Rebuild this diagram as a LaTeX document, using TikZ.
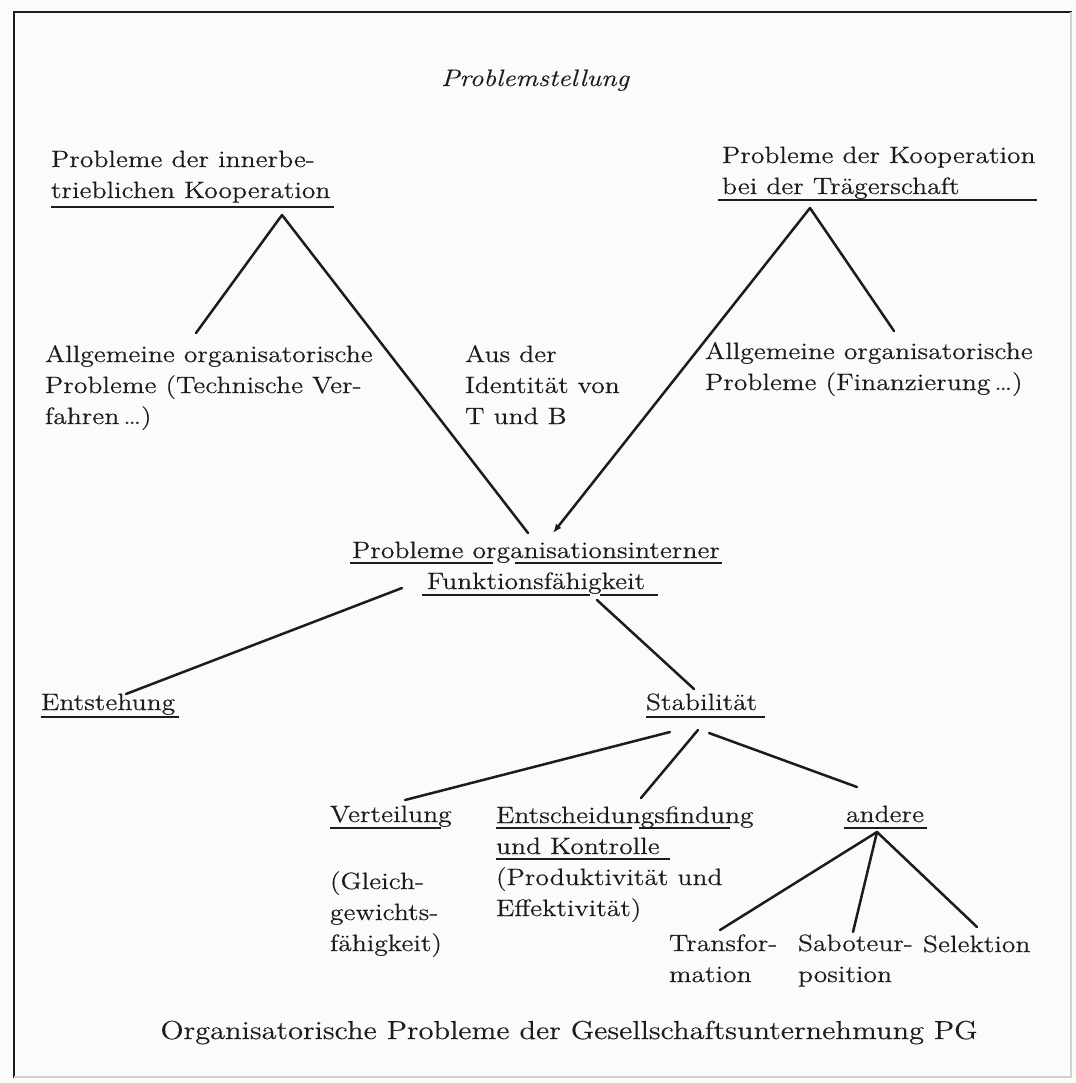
\documentclass[tikz,border=0pt]{standalone}
\usepackage{fontspec}
\setmainfont{Latin Modern Roman}[FakeStretch=1.17,FakeBold=0.3]
\usetikzlibrary{arrows.meta}
\definecolor{ink}{HTML}{1C1C1C}
\definecolor{paper}{HTML}{FBFBFB}
\begin{document}
\begin{tikzpicture}[x=0.5pt,y=-0.5pt,
  % multi-line nodes are placed by the baseline of their last line
  txt/.style={inner sep=0pt,outer sep=0pt,text=ink,align=left,anchor=base west,
    font=\fontsize{11.8}{15.5}\selectfont},
  ctxt/.style={txt,align=center,anchor=base},
  link/.style={draw=ink,line width=1.25pt,line cap=round},
  uline/.style={draw=ink,line width=0.95pt},
  frameline/.style={draw=ink,line width=1.4pt}]

% paper and frame
\fill[paper] (0,0) rectangle (1076,1083);
\useasboundingbox (0,0) rectangle (1076,1083);
\draw[frameline] (14,1078) -- (14,12) -- (1072,12);
\draw[draw=black!18,line width=0.8pt] (1071,12) -- (1071,1077) -- (14,1077);

% heading
\node[ctxt,font=\fontsize{11.9}{15.5}\selectfont\itshape] (title) at (535,86) {Problemstellung};

% upper level
\node[txt] (inner) at (51,198) {Probleme der innerbe-\\trieblichen Kooperation};
\node[txt] (traeger) at (722,194) {Probleme der Kooperation\\bei der Trägerschaft};
\draw[uline] (51,207) -- (334,207);
\draw[uline] (718,200) -- (1037,200);

% second level
\node[txt] (techn) at (45,424) {Allgemeine organisatorische\\Probleme (Technische Ver-\\fahren\,\dots)};
\node[txt] (ident) at (465,424) {Aus der\\Identität von\\T und B};
\node[txt] (finanz) at (705,390) {Allgemeine organisatorische\\Probleme (Finanzierung\,\dots)};

% central node
\node[ctxt] (funkt) at (536,589) {Probleme organisationsinterner\\Funktionsfähigkeit};
\draw[uline] (350,563) -- (493,563) (515,563) -- (722,563);
\draw[uline] (422,595) -- (590,595) (600,595) -- (658,595);

% third level
\node[txt] (entst) at (41,710) {Entstehung};
\node[txt] (stab) at (646,710) {Stabilität};
\draw[uline] (41,717) -- (179,717);
\draw[uline] (646,717) -- (765,717);

% fourth level
\node[txt] (vert) at (330,822) {Verteilung};
\node[txt] (gleich) at (330,951) {(Gleich-\\gewichts-\\fähigkeit)};
\node[txt] (entsch) at (496,916) {Entscheidungsfindung\\und Kontrolle\\(Produktivität und\\Effektivität)};
\node[txt] (andere) at (846,822) {andere};
\draw[uline] (330,828) -- (441,828);
\draw[uline] (496,828) -- (632,828) (639,828) -- (730,828);
\draw[uline] (496,859) -- (670,859);
\draw[uline] (844,828) -- (927,828);

% fifth level
\node[txt] (transf) at (669,982) {Transfor-\\mation};
\node[txt] (sabot) at (798,982) {Saboteur-\\position};
\node[txt] (selekt) at (923,952) {Selektion};

% caption
\node[ctxt,font=\fontsize{13}{15.5}\selectfont] (caption) at (569,1039)
  {Organisatorische Probleme der Gesellschaftsunternehmung PG};

% connector end points
\coordinate (inner-foot) at (282,215);
\coordinate (traeger-foot) at (810,208);
\coordinate (techn-top) at (196,333);
\coordinate (finanz-top) at (894,331);
\coordinate (funkt-in) at (528,533);
\coordinate (funkt-tr) at (553,533);
\coordinate (funkt-left) at (402,588);
\coordinate (funkt-right) at (597,600);
\coordinate (entst-top) at (126,694);
\coordinate (stab-top) at (694,689);
\coordinate (stab-l) at (670,732);
\coordinate (stab-m) at (698,730);
\coordinate (stab-r) at (709,733);
\coordinate (vert-top) at (405,800);
\coordinate (entsch-top) at (641,798);
\coordinate (andere-top) at (857,787);
\coordinate (andere-foot) at (877,832);
\coordinate (transf-top) at (720,930);
\coordinate (sabot-top) at (853,932);
\coordinate (selekt-top) at (977,927);

% connectors
\draw[link] (inner-foot) -- (techn-top);
\draw[link] (inner-foot) -- (funkt-in);
\draw[link,-{Latex[length=4.5pt,width=3.5pt]}] (traeger-foot) -- (funkt-tr);
\draw[link] (traeger-foot) -- (finanz-top);
\draw[link] (funkt-left) -- (entst-top);
\draw[link] (funkt-right) -- (stab-top);
\draw[link] (stab-l) -- (vert-top);
\draw[link] (stab-m) -- (entsch-top);
\draw[link] (stab-r) -- (andere-top);
\draw[link] (andere-foot) -- (transf-top);
\draw[link] (andere-foot) -- (sabot-top);
\draw[link] (andere-foot) -- (selekt-top);
\end{tikzpicture}
\end{document}
